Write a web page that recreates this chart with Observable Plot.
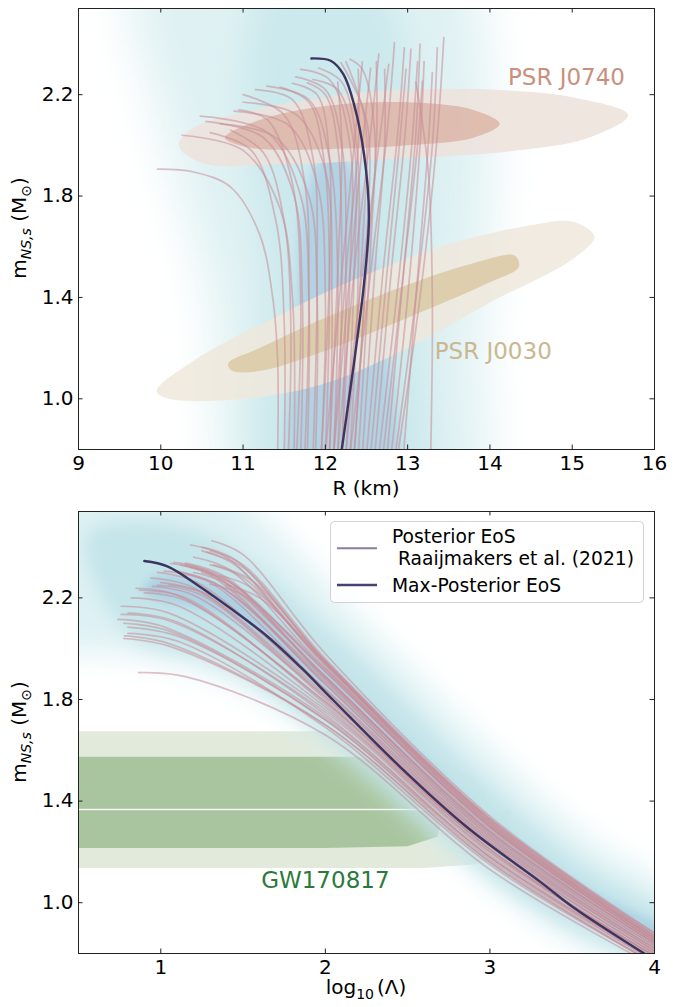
<!DOCTYPE html>
<html><head><meta charset="utf-8">
<script src="https://cdn.jsdelivr.net/npm/d3@7"></script>
<script src="https://cdn.jsdelivr.net/npm/@observablehq/plot@0.6"></script>
<style>
body{margin:0;background:#fff;font-family:"DejaVu Sans",sans-serif;}
#wrap{position:relative;width:685px;height:1007px;}
#wrap svg{display:block;}
</style></head>
<body><div id="wrap"></div>
<script>
// ---------- ticks ----------
const xTicksTop = [9,10,11,12,13,14,15,16];
const xTicksBot = [1,2,3,4];
const yTicks = [1.0,1.4,1.8,2.2];

// ---------- top panel: M-R posterior EoS curves [R, m] ----------
const topEos = [
 [[11.42,0.78],[11.42,1.15],[11.36,1.40],[11.2,1.65],[10.85,1.835],[10.4,1.895],[9.96,1.906]],
 [[11.62,0.78],[11.6,1.4],[11.45,1.75],[11.0,1.98],[10.26,2.04]],
 [[11.78,0.78],[11.8,1.4],[11.7,1.8],[11.3,2.05],[10.48,2.115]],
 [[11.7,0.78],[11.72,1.4],[11.62,1.8],[11.25,2.03],[10.55,2.095]],
 [[11.88,0.78],[11.9,1.4],[11.8,1.8],[11.4,2.03],[10.72,2.085]],
 [[11.95,0.78],[12.0,1.4],[11.9,1.85],[11.55,2.08],[10.89,2.135]],
 [[11.55,0.78],[11.58,1.3],[11.5,1.7],[11.25,1.97],[10.85,2.06]],
 [[12.05,0.78],[12.08,1.4],[12.0,1.9],[11.65,2.12],[11.0,2.17]],
 [[12.1,0.78],[12.15,1.5],[12.05,1.95],[11.8,2.18],[11.29,2.234]],
 [[12.0,0.78],[12.05,1.5],[11.98,1.95],[11.8,2.17],[11.45,2.23]],
 [[12.2,0.78],[12.25,1.5],[12.2,2.0],[12.0,2.22],[11.64,2.27]],
 [[12.15,0.78],[12.2,1.5],[12.15,2.0],[12.0,2.2],[11.78,2.247]],
 [[12.3,0.78],[12.4,1.5],[12.38,2.0],[12.2,2.25],[11.92,2.305]],
 [[12.35,0.78],[12.5,1.6],[12.5,2.1],[12.19,2.326]],
 [[12.25,0.78],[12.45,1.6],[12.48,2.1],[12.25,2.33]],
 [[12.0,0.78],[12.2,1.5],[12.35,2.0],[12.45,2.33]],
 [[12.1,0.78],[12.3,1.5],[12.45,2.0],[12.55,2.305]],
 [[12.2,0.78],[12.45,1.5],[12.65,2.0],[12.77,2.32]],
 [[12.3,0.78],[12.55,1.5],[12.75,2.05],[12.84,2.405]],
 [[12.5,0.78],[12.7,1.5],[12.88,2.05],[12.96,2.385]],
 [[12.6,0.78],[12.8,1.5],[12.97,2.05],[13.04,2.38]],
 [[12.7,0.78],[12.95,1.5],[13.12,2.0],[13.18,2.254]],
 [[12.8,0.78],[13.0,1.4],[13.15,2.0],[13.2,2.33]],
 [[12.95,0.78],[13.1,1.4],[13.25,2.0],[13.3,2.287]],
 [[12.85,0.78],[13.1,1.4],[13.3,2.0],[13.36,2.385]],
 [[12.88,0.78],[13.15,1.4],[13.35,2.0],[13.44,2.425]],
 [[12.15,0.78],[12.35,1.5],[12.55,2.05],[12.65,2.36]],
 [[13.28,0.78],[13.3,1.4],[13.25,1.9],[13.1,2.25]],
 [[11.85,0.78],[11.9,1.5],[11.85,1.95],[11.6,2.18],[11.15,2.22]],
 [[12.25,0.78],[12.35,1.5],[12.35,2.0],[12.15,2.22],[11.85,2.26]],
 [[12.4,0.78],[12.55,1.6],[12.6,2.05],[12.45,2.3],[12.3,2.34]],
 [[12.45,0.78],[12.6,1.5],[12.72,2.0],[12.72,2.3]],
 [[12.05,0.78],[12.15,1.5],[12.2,2.0],[12.15,2.25]],
 [[11.95,0.78],[12.05,1.5],[12.05,1.95],[11.9,2.2],[11.6,2.245]],
 [[12.55,0.78],[12.75,1.5],[12.9,2.0],[12.98,2.3]],
 [[12.35,0.78],[12.5,1.5],[12.62,2.0],[12.62,2.33]],
 [[11.75,0.78],[11.8,1.4],[11.75,1.85],[11.5,2.12],[11.0,2.2]],
 [[12.65,0.78],[12.9,1.5],[13.05,2.0],[13.12,2.33]],
 [[12.2,0.78],[12.3,1.5],[12.3,2.0],[12.05,2.26],[11.7,2.3]],
 [[11.5,0.78],[11.5,1.3],[11.4,1.7],[11.1,1.98],[10.6,2.05]],
 [[12.75,0.78],[12.95,1.5],[13.1,2.05],[13.15,2.4]],
 [[12.1,0.78],[12.25,1.5],[12.4,2.0],[12.4,2.3]],
 [[11.65,0.78],[11.7,1.4],[11.6,1.85],[11.3,2.1],[10.95,2.14]]
];
const topMax = [[12.19,0.78],[12.36,1.17],[12.47,1.455],[12.53,1.72],[12.47,1.965],[12.35,2.16],[12.22,2.28],[12.07,2.333],[11.83,2.343]];

// ---------- bottom panel: m - log10(Lambda) curves ----------
const botEos = [
 [[0.866,1.906],[1.15,1.89],[2.0,1.66],[3.0,1.13],[4.0,0.75]],
 [[0.775,2.04],[1.05,2.01],[2.0,1.70],[3.0,1.16],[4.0,0.76]],
 [[0.74,2.115],[1.0,2.09],[2.0,1.73],[3.0,1.18],[4.0,0.77]],
 [[0.775,2.10],[1.05,2.07],[2.0,1.72],[3.0,1.17],[4.0,0.77]],
 [[0.80,2.085],[1.1,2.05],[2.0,1.72],[3.0,1.18],[4.0,0.78]],
 [[0.76,2.135],[1.05,2.11],[2.0,1.75],[3.0,1.19],[4.0,0.78]],
 [[0.80,2.06],[1.1,2.03],[2.0,1.69],[3.0,1.15],[4.0,0.76]],
 [[0.76,2.167],[1.05,2.14],[2.0,1.76],[3.0,1.2],[4.0,0.79]],
 [[0.85,2.237],[1.1,2.21],[2.0,1.79],[3.0,1.21],[4.0,0.79]],
 [[0.87,2.23],[1.15,2.2],[2.0,1.78],[3.0,1.21],[4.0,0.79]],
 [[0.94,2.278],[1.2,2.24],[2.0,1.81],[3.0,1.23],[4.0,0.80]],
 [[0.98,2.25],[1.25,2.21],[2.0,1.80],[3.0,1.22],[4.0,0.80]],
 [[1.02,2.305],[1.3,2.26],[2.0,1.84],[3.0,1.25],[4.0,0.81]],
 [[1.06,2.336],[1.3,2.29],[2.0,1.86],[3.0,1.26],[4.0,0.82]],
 [[1.15,2.337],[1.4,2.28],[2.0,1.88],[3.0,1.27],[4.0,0.83]],
 [[1.12,2.33],[1.35,2.28],[2.0,1.89],[3.0,1.28],[4.0,0.84]],
 [[1.10,2.305],[1.35,2.25],[2.0,1.88],[3.0,1.28],[4.0,0.84]],
 [[1.18,2.32],[1.4,2.27],[2.0,1.91],[3.0,1.30],[4.0,0.85]],
 [[1.18,2.408],[1.4,2.36],[2.0,1.93],[3.0,1.30],[4.0,0.85]],
 [[1.25,2.385],[1.45,2.33],[2.0,1.94],[3.0,1.31],[4.0,0.86]],
 [[1.28,2.38],[1.5,2.32],[2.0,1.95],[3.0,1.32],[4.0,0.86]],
 [[1.30,2.254],[1.5,2.21],[2.0,1.92],[3.0,1.31],[4.0,0.86]],
 [[1.32,2.33],[1.55,2.27],[2.0,1.95],[3.0,1.32],[4.0,0.87]],
 [[1.36,2.287],[1.55,2.24],[2.0,1.94],[3.0,1.33],[4.0,0.87]],
 [[1.30,2.385],[1.5,2.33],[2.0,1.96],[3.0,1.33],[4.0,0.87]],
 [[1.31,2.425],[1.5,2.37],[2.0,1.98],[3.0,1.34],[4.0,0.88]],
 [[1.20,2.36],[1.42,2.31],[2.0,1.92],[3.0,1.30],[4.0,0.85]],
 [[1.40,2.25],[1.6,2.2],[2.0,1.95],[3.0,1.33],[4.0,0.88]],
 [[0.90,2.22],[1.15,2.19],[2.0,1.79],[3.0,1.21],[4.0,0.79]],
 [[1.0,2.26],[1.25,2.22],[2.0,1.82],[3.0,1.24],[4.0,0.81]],
 [[1.08,2.34],[1.3,2.3],[2.0,1.86],[3.0,1.26],[4.0,0.82]],
 [[1.2,2.3],[1.42,2.25],[2.0,1.89],[3.0,1.29],[4.0,0.84]],
 [[1.05,2.25],[1.3,2.21],[2.0,1.84],[3.0,1.25],[4.0,0.82]],
 [[0.95,2.245],[1.2,2.21],[2.0,1.81],[3.0,1.23],[4.0,0.80]],
 [[1.25,2.3],[1.45,2.25],[2.0,1.91],[3.0,1.30],[4.0,0.85]],
 [[1.15,2.33],[1.38,2.28],[2.0,1.89],[3.0,1.28],[4.0,0.84]],
 [[0.82,2.2],[1.1,2.17],[2.0,1.77],[3.0,1.2],[4.0,0.79]],
 [[1.3,2.33],[1.5,2.28],[2.0,1.94],[3.0,1.32],[4.0,0.86]],
 [[0.98,2.3],[1.22,2.26],[2.0,1.83],[3.0,1.24],[4.0,0.81]],
 [[0.78,2.05],[1.05,2.02],[2.0,1.70],[3.0,1.16],[4.0,0.76]],
 [[1.25,2.4],[1.45,2.35],[2.0,1.95],[3.0,1.31],[4.0,0.86]],
 [[1.12,2.3],[1.35,2.25],[2.0,1.87],[3.0,1.27],[4.0,0.83]],
 [[0.80,2.14],[1.08,2.11],[2.0,1.74],[3.0,1.18],[4.0,0.78]]
];
const botMax = [[0.90,2.345],[1.04,2.324],[1.24,2.243],[1.44,2.151],[1.65,2.047],[1.85,1.927],[2.05,1.796],[2.457,1.533],[2.863,1.296],[3.31,1.08],[3.51,0.98],[3.937,0.80],[4.05,0.755]];

// ---------- PSR posterior contours [R, m] ----------
const j0740Outer = [[10.22,2.0],[10.4,2.07],[11.0,2.13],[12.0,2.19],[13.0,2.22],[14.0,2.22],[15.0,2.19],[15.68,2.12],[15.2,2.03],[14.2,1.975],[13.0,1.95],[11.5,1.925],[10.5,1.93]];
const j0740Inner = [[10.78,2.03],[11.2,2.1],[12.0,2.155],[13.0,2.17],[13.8,2.14],[14.12,2.085],[13.8,2.03],[13.0,2.0],[12.0,1.985],[11.1,1.99]];
const j0030Outer = [[9.95,1.03],[10.4,1.15],[11.5,1.34],[12.5,1.49],[13.5,1.61],[14.5,1.685],[15.0,1.70],[15.27,1.64],[15.0,1.55],[14.0,1.38],[13.0,1.2],[12.0,1.06],[11.0,1.0],[10.1,1.0]];
const j0030Inner = [[10.82,1.14],[11.2,1.20],[12.0,1.32],[13.0,1.45],[13.8,1.535],[14.3,1.565],[14.35,1.52],[14.0,1.46],[13.0,1.32],[12.0,1.19],[11.2,1.11],[10.86,1.112]];

// ---------- GW170817 contours [log10 Lambda, m] ----------
const gwUpperOuter = [[0.4,1.675],[2.4,1.675],[2.55,1.60],[2.72,1.555],[2.9,1.49],[2.97,1.43],[3.01,1.37],[0.4,1.37]];
const gwLowerOuter = [[0.4,1.364],[3.13,1.364],[3.11,1.32],[3.15,1.25],[3.08,1.18],[2.9,1.15],[2.6,1.137],[0.4,1.137]];
const gwUpperInner = [[0.4,1.575],[2.2,1.575],[2.45,1.52],[2.62,1.42],[2.65,1.37],[0.4,1.37]];
const gwLowerInner = [[0.4,1.364],[2.62,1.364],[2.7,1.31],[2.68,1.26],[2.5,1.222],[2.0,1.215],[0.4,1.215]];

// ---------- posterior density glow (approximate outlines) ----------
const topGlowOuter = [[11.0,0.6],[10.6,1.4],[10.0,2.1],[9.7,2.7],[11.8,2.9],[13.6,2.75],[14.0,2.1],[13.9,1.2],[13.8,0.6]];
const topGlowMid = [[11.3,0.6],[11.25,1.5],[11.0,2.2],[11.3,2.65],[12.5,2.7],[13.1,2.2],[13.15,1.4],[13.1,0.6]];
const topBlue = [[11.65,0.6],[11.65,1.3],[11.8,1.85],[12.1,2.0],[12.4,1.85],[12.7,1.3],[12.8,0.6]];
const botGlowOuter = [[0.3,2.7],[1.3,2.66],[2.2,2.12],[3.0,1.6],[3.6,1.25],[4.2,0.98],[4.2,0.7],[3.6,0.82],[3.0,1.08],[2.2,1.55],[1.5,1.85],[0.8,1.98],[0.3,2.02]];
const botGlowMid = [[0.55,2.45],[1.2,2.47],[2.1,2.03],[2.9,1.52],[3.5,1.18],[4.2,0.88],[4.2,0.75],[3.5,0.9],[2.9,1.15],[2.1,1.6],[1.4,1.93],[0.8,2.06]];
const botBlue = [[0.9,2.22],[1.4,2.12],[2.2,1.72],[3.0,1.25],[3.6,0.97],[4.2,0.76],[4.2,0.84],[3.6,1.05],[3.0,1.32],[2.2,1.82],[1.4,2.24],[0.95,2.28]];

// ---------- helpers ----------
const W = 685;
const curveRows = list => list.flatMap((pts,i) => pts.map(([x,y]) => ({id:i, x, y})));
const polyRows = pts => pts.map(([x,y]) => ({x, y}));
const shape = (pts, fill, opts={}) => Plot.line(polyRows(pts), {x:"x", y:"y", fill, stroke:"none", curve:"catmull-rom-closed", clip:true, ...opts});
const poly = (pts, fill, opts={}) => Plot.line(polyRows(pts), {x:"x", y:"y", fill, stroke:"none", curve:"linear-closed", clip:true, ...opts});
const FONT = "DejaVu Sans";

function frameMarks(xt, fw, fh) {
  const k = 4.5;
  return [
    Plot.frame({stroke:"#222", strokeWidth:1}),
    Plot.tickX(xt, {x:d=>d, insetTop: fh-k, stroke:"#222"}),
    Plot.tickX(xt, {x:d=>d, insetBottom: fh-k, stroke:"#222"}),
    Plot.tickY(yTicks, {y:d=>d, insetLeft: fw-k, stroke:"#222"}),
    Plot.tickY(yTicks, {y:d=>d, insetRight: fw-k, stroke:"#222"}),
    Plot.axisX(xt, {tickSize:0, tickPadding:6, label:null, fontSize:20, fill:"#000", tickFormat:d3.format("d")}),
    Plot.axisY(yTicks, {tickSize:0, tickPadding:5, label:null, fontSize:20, fill:"#000", tickFormat:d3.format(".1f")})
  ];
}

function addBlur(svg, id, sd, desc) {
  const s = d3.select(svg);
  let defs = s.select("defs");
  if (defs.empty()) defs = s.insert("defs", ":first-child");
  defs.append("filter").attr("id", id).attr("filterUnits","userSpaceOnUse")
    .attr("x",-200).attr("y",-200).attr("width",W+400).attr("height",1000)
    .append("feGaussianBlur").attr("stdDeviation", sd);
  s.selectAll(`g[aria-description="${desc}"]`).attr("filter", `url(#${id})`);
}

function yLabel(svg, cx, cy) {
  const t = d3.select(svg).append("text")
    .attr("transform", `translate(${cx},${cy}) rotate(-90)`)
    .attr("text-anchor","middle").attr("font-family",FONT).attr("font-size",20).attr("fill","#000");
  t.append("tspan").text("m");
  t.append("tspan").attr("font-size",14).attr("font-style","italic").attr("dy",5).text("NS,s");
  t.append("tspan").attr("dy",-5).text(" (M");
  t.append("tspan").attr("font-size",14).attr("dy",5).text("⊙");
  t.append("tspan").attr("dy",-5).text(")");
}

const baseStyle = {fontFamily: FONT, fontSize: "20px", color: "#000", background: "transparent", overflow: "visible"};
const eosStyle = {stroke:"#c68c98", strokeOpacity:0.55, strokeWidth:1.7, curve:"catmull-rom", clip:true};

// ---------- top panel ----------
const topPlot = Plot.plot({
  width: W, height: 500, marginLeft: 78, marginRight: 31, marginTop: 8, marginBottom: 51,
  x: {domain: [9, 16]}, y: {domain: [0.8, 2.54]},
  style: baseStyle,
  marks: [
    shape(topGlowOuter, "#dff1f3", {ariaDescription:"b1"}),
    shape(topGlowMid, "#c3e5e9", {fillOpacity:0.7, ariaDescription:"b2"}),
    shape(topBlue, "#96bedb", {fillOpacity:0.5, ariaDescription:"b4"}),
    shape(j0740Outer, "#ede2db", {fillOpacity:0.85}),
    shape(j0740Inner, "#d9b0a0", {fillOpacity:0.75}),
    shape(j0030Outer, "#eee7dc", {fillOpacity:0.85}),
    shape(j0030Inner, "#d9c7a1", {fillOpacity:0.8}),
    Plot.line(curveRows(topEos), {x:"x", y:"y", z:"id", ...eosStyle}),
    Plot.line(polyRows(topMax), {x:"x", y:"y", stroke:"#3d3560", strokeWidth:2.4, curve:"catmull-rom", clip:true}),
    Plot.text(["PSR J0740"], {x:14.93, y:2.267, text:d=>d, fill:"#c9917d", fontSize:23}),
    Plot.text(["PSR J0030"], {x:14.04, y:1.186, text:d=>d, fill:"#cbb78f", fontSize:23}),
    ...frameMarks(xTicksTop, 576, 441)
  ]
});
addBlur(topPlot, "tb1", 24, "b1");
addBlur(topPlot, "tb2", 16, "b2");
addBlur(topPlot, "tb4", 6, "b4");
d3.select(topPlot).append("text").attr("x",366).attr("y",495).attr("text-anchor","middle")
  .attr("font-family",FONT).attr("font-size",20).attr("fill","#000").text("R (km)");
yLabel(topPlot, 26, 228);

// ---------- bottom panel ----------
const botPlot = Plot.plot({
  width: W, height: 507, marginLeft: 78, marginRight: 31, marginTop: 11, marginBottom: 54,
  x: {domain: [0.5, 4]}, y: {domain: [0.8, 2.54]},
  style: baseStyle,
  marks: [
    poly(gwUpperOuter, "#e2eadc"),
    poly(gwLowerOuter, "#e2eadc"),
    poly(gwUpperInner, "#a8c59f"),
    poly(gwLowerInner, "#a8c59f"),
    shape(botGlowOuter, "#d8eff1", {fillOpacity:0.85, ariaDescription:"c1"}),
    shape(botGlowMid, "#b9e0e5", {fillOpacity:0.7, ariaDescription:"c2"}),
    shape(botBlue, "#96bedb", {fillOpacity:0.5, ariaDescription:"c3"}),
    Plot.line(curveRows(botEos), {x:"x", y:"y", z:"id", ...eosStyle}),
    Plot.line(polyRows(botMax), {x:"x", y:"y", stroke:"#3d3560", strokeWidth:2.4, curve:"catmull-rom", clip:true}),
    Plot.text(["GW170817"], {x:2.0, y:1.086, text:d=>d, fill:"#2b7a3b", fontSize:23}),
    ...frameMarks(xTicksBot, 576, 442)
  ]
});
addBlur(botPlot, "bb1", 15, "c1");
addBlur(botPlot, "bb2", 9, "c2");
addBlur(botPlot, "bb3", 5, "c3");
{
  const s = d3.select(botPlot);
  const t = s.append("text").attr("x",366).attr("y",494).attr("text-anchor","middle")
    .attr("font-family",FONT).attr("font-size",20).attr("fill","#000");
  t.append("tspan").text("log");
  t.append("tspan").attr("font-size",14).attr("dy",5).text("10");
  t.append("tspan").attr("dy",-5).attr("dx",3).text("(Λ)");
  yLabel(botPlot, 26, 232);
  // legend
  const g = s.append("g").attr("font-family",FONT).attr("font-size",18.7).attr("fill","#000").attr("text-anchor","start");
  g.append("rect").attr("x",330.5).attr("y",21.5).attr("width",313).attr("height",81).attr("rx",4)
    .attr("fill","#fff").attr("fill-opacity",0.8).attr("stroke","#d2d2d2");
  g.append("line").attr("x1",337).attr("x2",377).attr("y1",48.3).attr("y2",48.3).attr("stroke","#8b7c9c").attr("stroke-width",2);
  g.append("line").attr("x1",337).attr("x2",377).attr("y1",85).attr("y2",85).attr("stroke","#4a4070").attr("stroke-width",2.4);
  g.append("text").attr("x",392).attr("y",43.3).text("Posterior EoS");
  g.append("text").attr("x",398).attr("y",65).text("Raaijmakers et al. (2021)");
  g.append("text").attr("x",392).attr("y",91.7).text("Max-Posterior EoS");
}

const wrap = document.getElementById("wrap");
wrap.appendChild(topPlot);
wrap.appendChild(botPlot);
</script>
</body></html>
